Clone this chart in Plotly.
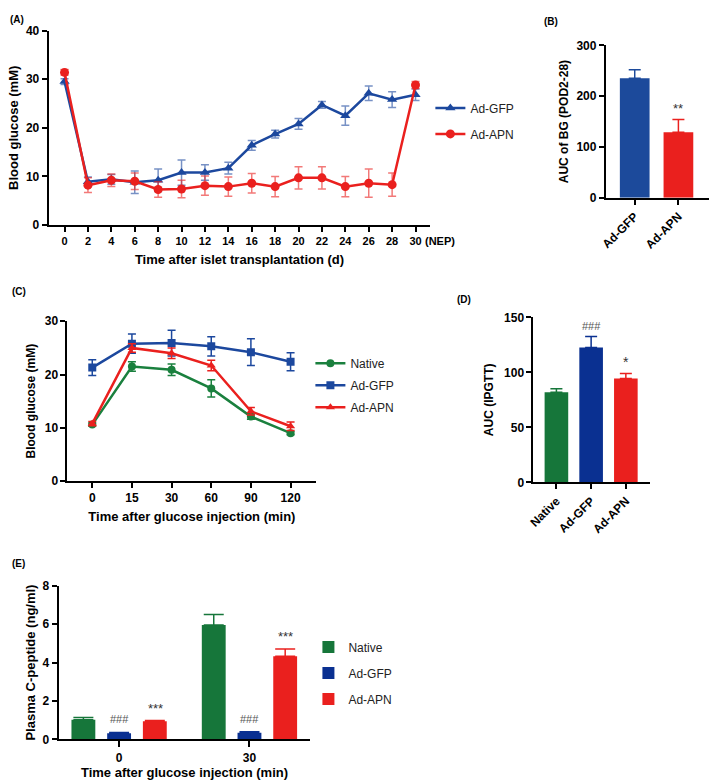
"""Islet transplantation figure: blood glucose, IPGTT and C-peptide panels (A-E)."""

import plotly.graph_objects as go

W, H = 709, 783
FONT = "Liberation Sans"

# Colour scheme
BLUE = "rgb(28, 72, 158)"
BLUE_ERR = "rgba(28, 72, 158, 0.6)"
RED = "rgb(234, 32, 30)"
RED_ERR = "rgba(234, 32, 30, 0.6)"
GREEN = "rgb(26, 128, 62)"
BAR_GREEN = "rgb(22, 118, 58)"
BAR_BLUE = "rgb(10, 48, 145)"
BAR_BLUE_B = "rgb(28, 74, 155)"

# (A) blood glucose after islet transplantation
a_days = [0, 2, 4, 6, 8, 10, 12, 14, 16, 18, 20, 22, 24, 26, 28, 30]
a_tick_labels = ["0", "2", "4", "6", "8", "10", "12", "14", "16", "18",
                 "20", "22", "24", "26", "28", "30"]
a_gfp = [29.5, 8.9, 9.4, 8.8, 9.2, 10.8, 10.8, 11.7, 16.4, 18.7, 20.8,
         24.7, 22.5, 27.1, 25.8, 26.8]
a_gfp_sem = [0.6, 1.0, 1.0, 2.3, 2.3, 2.6, 1.6, 1.2, 1.0, 0.8, 1.1,
             0.7, 2.0, 1.5, 1.6, 1.2]
a_apn = [31.4, 8.2, 9.2, 9.0, 7.3, 7.4, 8.1, 7.9, 8.6, 7.9, 9.7,
         9.7, 7.9, 8.6, 8.3, 28.8]
a_apn_sem = [0.6, 1.5, 1.3, 1.7, 1.6, 1.8, 2.0, 2.0, 2.0, 2.1, 2.3,
             2.3, 2.1, 2.9, 2.4, 0.7]

# (B) AUC of blood glucose, POD2-28
b_groups = ["Ad-GFP", "Ad-APN"]
b_auc = [235, 129]
b_sem = [17, 25]
b_sig = ["", "**"]

# (C) IPGTT blood glucose
c_times = ["0", "15", "30", "60", "90", "120"]
c_native = [10.6, 21.5, 20.9, 17.4, 12.1, 9.0]
c_native_sem = [0.3, 0.9, 1.1, 1.6, 0.5, 0.3]
c_gfp = [21.3, 25.8, 25.9, 25.3, 24.2, 22.4]
c_gfp_sem = [1.5, 1.8, 2.4, 1.8, 2.5, 1.7]
c_apn = [10.8, 25.0, 24.0, 21.7, 13.1, 10.3]
c_apn_sem = [0.4, 0.8, 1.0, 1.0, 0.7, 0.8]

# (D) AUC of IPGTT
d_groups = ["Native", "Ad-GFP", "Ad-APN"]
d_auc = [82, 122.6, 94.4]
d_sem = [3, 10, 4.5]
d_sig = ["", "###", "*"]

# (E) plasma C-peptide
e_times = ["0", "30"]
e_native = [1.02, 5.95]
e_native_sem = [0.12, 0.55]
e_gfp = [0.32, 0.35]
e_gfp_sem = [0.04, 0.05]
e_apn = [0.94, 4.33]
e_apn_sem = [0.04, 0.37]
e_gfp_sig = ["###", "###"]
e_apn_sig = ["***", "***"]


def px_x(p):
    return p / W


def px_y(p):
    return 1 - p / H


def err(values, color, width):
    return dict(type="data", array=values, color=color, thickness=1.5, width=width)


def err_up(values, color, width):
    return dict(type="data", symmetric=False, array=values,
                arrayminus=[0] * len(values), color=color, thickness=1.5, width=width)


def title(text, standoff, size=12):
    return dict(text=text, standoff=standoff, font=dict(size=size, weight="bold"))


fig = go.Figure()

# ---- (A)
fig.add_trace(go.Scatter(
    x=a_days, y=a_gfp, name="Ad-GFP", mode="lines+markers",
    line=dict(color=BLUE, width=2.5), marker=dict(symbol="triangle-up", size=9, color=BLUE),
    error_y=err(a_gfp_sem, BLUE_ERR, 4), xaxis="x", yaxis="y",
    legend="legend", legendgroup="a1",
))
fig.add_trace(go.Scatter(
    x=a_days, y=a_apn, name="Ad-APN", mode="lines+markers",
    line=dict(color=RED, width=2.5), marker=dict(symbol="circle", size=9, color=RED),
    error_y=err(a_apn_sem, RED_ERR, 4), xaxis="x", yaxis="y",
    legend="legend", legendgroup="a2",
))

# ---- (B)
for g, v, s, c in zip(b_groups, b_auc, b_sem, [BAR_BLUE_B, RED]):
    fig.add_trace(go.Bar(
        x=[g], y=[v], width=0.68, marker=dict(color=c, line=dict(width=0)),
        error_y=err_up([s], c, 6), xaxis="x2", yaxis="y2", showlegend=False,
    ))

# ---- (C)
for name, vals, sem, color, sym in [
    ("Native", c_native, c_native_sem, GREEN, "circle"),
    ("Ad-GFP", c_gfp, c_gfp_sem, BLUE, "square"),
    ("Ad-APN", c_apn, c_apn_sem, RED, "triangle-up"),
]:
    fig.add_trace(go.Scatter(
        x=c_times, y=vals, name=name, mode="lines+markers",
        line=dict(color=color, width=2.5), marker=dict(symbol=sym, size=8, color=color),
        error_y=err(sem, color, 4), xaxis="x3", yaxis="y3",
        legend="legend2", legendgroup="c" + name,
    ))

# ---- (D)
for g, v, s, c in zip(d_groups, d_auc, d_sem, [BAR_GREEN, BAR_BLUE, RED]):
    fig.add_trace(go.Bar(
        x=[g], y=[v], width=0.68, marker=dict(color=c, line=dict(width=0)),
        error_y=err_up([s], c, 6), xaxis="x4", yaxis="y4", showlegend=False,
    ))

# ---- (E)
for name, vals, sem, color, offset in [
    ("Native", e_native, e_native_sem, BAR_GREEN, -0.365),
    ("Ad-GFP", e_gfp, e_gfp_sem, BAR_BLUE, -0.091),
    ("Ad-APN", e_apn, e_apn_sem, RED, 0.183),
]:
    fig.add_trace(go.Bar(
        x=e_times, y=vals, name=name, width=0.183, offset=offset,
        marker=dict(color=color, line=dict(width=0)),
        error_y=err_up(sem, color, 10), xaxis="x5", yaxis="y5",
        legend="legend3", legendgroup="e" + name,
    ))

# ---- significance marks (category axes take the index as position)
notes = []
for i, (v, s, t) in enumerate(zip(b_auc, b_sem, b_sig)):
    if t:
        notes.append(dict(x=i, y=v + s, xref="x2", yref="y2", text=t, yshift=2,
                          font=dict(size=13, color="#333")))
for i, (v, s, t) in enumerate(zip(d_auc, d_sem, d_sig)):
    if t:
        hashes = t.startswith("#")
        notes.append(dict(x=i, y=v + s, xref="x4", yref="y4", text=t, yshift=2,
                          font=dict(size=11 if hashes else 14,
                                    color="#555" if hashes else "#333")))
for i, (v, s, t) in enumerate(zip(e_gfp, e_gfp_sem, e_gfp_sig)):
    notes.append(dict(x=i, y=v + s, xref="x5", yref="y5", text=t, yshift=5,
                      font=dict(size=11, color="#555")))
for i, (v, s, t) in enumerate(zip(e_apn, e_apn_sem, e_apn_sig)):
    notes.append(dict(x=i, y=v + s, xref="x5", yref="y5", text=t, yshift=3, xshift=36,
                      font=dict(size=13, color="#333")))
for n in notes:
    n.update(showarrow=False, yanchor="bottom")
    fig.add_annotation(**n)

# ---- panel letters and extra text
for label, x, y in [("(A)", 2, 13), ("(B)", 541, 15), ("(C)", 4, 290),
                    ("(D)", 453, 298), ("(E)", 4, 567)]:
    fig.add_annotation(text=label, x=px_x(x), y=px_y(y), xref="paper", yref="paper",
                       xanchor="left", yanchor="middle", showarrow=False,
                       font=dict(size=10, weight="bold"))
fig.add_annotation(text="(NEP)", x=px_x(421), y=px_y(238), xref="paper", yref="paper",
                   xanchor="left", yanchor="middle", showarrow=False,
                   font=dict(size=11, weight="bold"))

# ---- axes
axis_common = dict(showline=True, linewidth=2, linecolor="black", ticks="outside",
                   ticklen=5, tickwidth=2, tickcolor="black", showgrid=False,
                   zeroline=False, tickfont=dict(size=12, weight="bold"))

fig.update_layout(
    xaxis=dict(axis_common, domain=[px_x(43), px_x(428)], range=[-1.36, 31.27],
               tickvals=a_days, ticktext=a_tick_labels, anchor="y",
               tickfont=dict(size=11, weight="bold"),
               title=title("Time after islet transplantation (d)", 9, 13)),
    yaxis=dict(axis_common, domain=[px_y(222), px_y(24)], range=[0, 40],
               tickvals=[0, 10, 20, 30, 40], anchor="x",
               title=title("Blood glucose (mM)", 4, 13)),
    xaxis2=dict(axis_common, domain=[px_x(605), px_x(709)], range=[-0.66, 1.70],
                type="category", tickangle=-45, anchor="y2"),
    yaxis2=dict(axis_common, domain=[px_y(194.3), px_y(39)], range=[0, 300],
                tickvals=[0, 100, 200, 300], anchor="x2",
                title=title("AUC of BG (POD2-28)", 5)),
    xaxis3=dict(axis_common, domain=[px_x(62), px_x(313)], range=[-0.625, 5.65],
                type="category", anchor="y3",
                title=title("Time after glucose injection (min)", 7, 13)),
    yaxis3=dict(axis_common, domain=[px_y(482.7), px_y(320)], range=[0, 30],
                tickvals=[0, 10, 20, 30], anchor="x3",
                title=title("Blood glucose (mM)", 7)),
    xaxis4=dict(axis_common, domain=[px_x(532), px_x(650)], range=[-0.66, 2.71],
                type="category", tickangle=-45, anchor="y4"),
    yaxis4=dict(axis_common, domain=[px_y(484), px_y(316)], range=[0, 150],
                tickvals=[0, 50, 100, 150], anchor="x4",
                title=title("AUC (IPGTT)", 8)),
    xaxis5=dict(axis_common, domain=[px_x(53), px_x(307)], range=[-0.464, 1.468],
                type="category", ticklen=6, anchor="y5",
                title=title("Time after glucose injection (min)", 1, 13)),
    yaxis5=dict(axis_common, domain=[px_y(745.7), px_y(589.3)], range=[0, 8],
                tickvals=[0, 2, 4, 6, 8], anchor="x5",
                title=title("Plasma C-peptide (ng/ml)", 4, 13)),
)

legend_common = dict(xanchor="left", yanchor="top", bgcolor="rgba(0,0,0,0)",
                     font=dict(size=12, color="#222"), itemwidth=30)
fig.update_layout(
    legend=dict(legend_common, x=px_x(428), y=px_y(88), tracegroupgap=7),
    legend2=dict(legend_common, x=px_x(307), y=px_y(348), tracegroupgap=3),
    legend3=dict(legend_common, x=px_x(305), y=px_y(637), tracegroupgap=7),
)

fig.update_layout(
    width=W, height=H,
    margin=dict(l=0, r=0, t=0, b=0),
    paper_bgcolor="white", plot_bgcolor="white",
    font=dict(family=FONT, color="black"),
    barmode="overlay",
)

# drop the default page margin so the figure fills the window exactly
fig.write_html("out.html", config={"displayModeBar": False},
               post_script="document.body.style.margin = '0';")
